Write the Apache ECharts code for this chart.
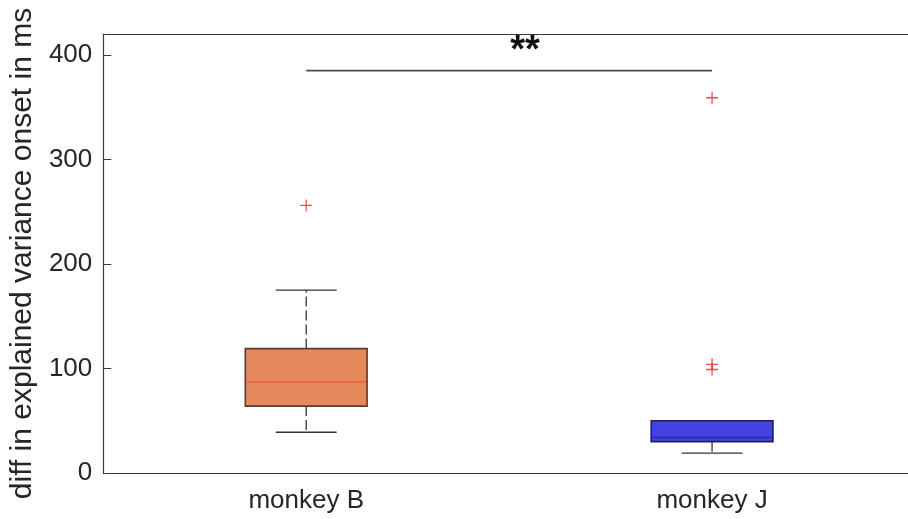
<!DOCTYPE html>
<html>
<head>
<meta charset="utf-8">
<script src="https://cdn.jsdelivr.net/npm/echarts@6/dist/echarts.min.js"></script>
<style>
  html, body { margin: 0; padding: 0; background: #ffffff; overflow: hidden; }
  #chart { width: 920px; height: 519px; }
</style>
</head>
<body>
<div id="chart"></div>
<script>
// Groups on the x axis
const categories = ['monkey B', 'monkey J'];

// Box statistics per group: [lower whisker, Q1, median, Q3, upper whisker]
const boxStats = [
  [39, 64, 87, 119, 175],
  [19, 30, 34, 50, 50]
];

// Outliers: [group, value]
const outliers = [
  ['monkey B', 256],
  ['monkey J', 359],
  ['monkey J', 104],
  ['monkey J', 99]
];

// Significance bracket between the two groups
const sigFrom = 'monkey B';
const sigTo = 'monkey J';
const sigValue = 385;
const sigLabel = '**';

// Y axis ticks
const yMin = 0;
const yMax = 420;
const yStep = 100;

const boxFill = ['#e5895d', '#4343e2'];
const boxEdge = ['#5e3a2c', '#1e1e66'];
const medianColor = ['#e4603a', '#2b2ba6'];

const fontFamily = '"Liberation Sans", Arial, Helvetica, sans-serif';
const axisColor = '#3a3a3a';
const textColor = '#262626';

const chart = echarts.init(document.getElementById('chart'), null, { renderer: 'canvas' });

function renderBox(params, api) {
  const idx = api.value(0);
  const lo = api.coord([idx, api.value(1)]);
  const q1 = api.coord([idx, api.value(2)]);
  const med = api.coord([idx, api.value(3)]);
  const q3 = api.coord([idx, api.value(4)]);
  const hi = api.coord([idx, api.value(5)]);
  const band = api.size([1, 0])[0];
  const half = band * 0.15;
  const cap = band * 0.075;
  const x = q1[0];
  const dash = { stroke: '#333333', lineWidth: 1.3, lineDash: [10, 4] };
  const solid = { stroke: '#333333', lineWidth: 1.3 };
  const children = [];
  if (hi[1] < q3[1] - 0.5) {
    children.push({ type: 'line', shape: { x1: x, y1: q3[1], x2: x, y2: hi[1] }, style: dash });
    children.push({ type: 'line', shape: { x1: x - cap, y1: hi[1], x2: x + cap, y2: hi[1] }, style: solid });
  }
  if (lo[1] > q1[1] + 0.5) {
    children.push({ type: 'line', shape: { x1: x, y1: q1[1], x2: x, y2: lo[1] }, style: dash });
    children.push({ type: 'line', shape: { x1: x - cap, y1: lo[1], x2: x + cap, y2: lo[1] }, style: solid });
  }
  children.push({
    type: 'rect',
    shape: { x: x - half, y: q3[1], width: half * 2, height: q1[1] - q3[1] },
    style: { fill: boxFill[idx], stroke: boxEdge[idx], lineWidth: 1.6 }
  });
  children.push({
    type: 'line',
    shape: { x1: x - half + 1, y1: med[1], x2: x + half - 1, y2: med[1] },
    style: { stroke: medianColor[idx], lineWidth: 1.6 }
  });
  return { type: 'group', children: children };
}

function renderSig(params, api) {
  const a = api.coord([api.value(0), api.value(2)]);
  const b = api.coord([api.value(1), api.value(2)]);
  const midX = (a[0] + b[0]) / 2;
  return {
    type: 'group',
    children: [
      { type: 'line', shape: { x1: a[0], y1: a[1], x2: b[0], y2: b[1] }, style: { stroke: '#4a4a4a', lineWidth: 1.8 } },
      {
        type: 'text',
        style: {
          x: midX + 1, y: a[1] - 19, text: sigLabel,
          fill: '#111111', font: 'bold 38px ' + fontFamily,
          align: 'left', verticalAlign: 'middle'
        }
      }
    ]
  };
}

const boxData = boxStats.map((s, i) => [i].concat(s));
const sigData = [[categories.indexOf(sigFrom), categories.indexOf(sigTo), sigValue]];

chart.setOption({
  animation: false,
  backgroundColor: '#ffffff',
  grid: { left: 103, top: 34, right: 5, height: 439, containLabel: false },
  xAxis: [
    {
      type: 'category',
      data: categories,
      position: 'bottom',
      boundaryGap: true,
      axisLine: { lineStyle: { color: axisColor, width: 1.2 } },
      axisTick: { inside: true, alignWithLabel: true, length: 7, lineStyle: { color: axisColor } },
      axisLabel: { color: textColor, fontSize: 26, fontFamily: fontFamily, margin: 15 },
      splitLine: { show: false }
    },
    {
      type: 'category',
      data: categories,
      position: 'top',
      boundaryGap: true,
      axisLine: { lineStyle: { color: axisColor, width: 1.2 } },
      axisTick: { inside: true, alignWithLabel: true, length: 7, lineStyle: { color: axisColor } },
      axisLabel: { show: false },
      splitLine: { show: false }
    }
  ],
  yAxis: {
    type: 'value',
    min: yMin,
    max: yMax,
    interval: yStep,
    name: 'diff in explained variance onset in ms',
    nameLocation: 'middle',
    nameGap: 62,
    nameTextStyle: { color: textColor, fontSize: 30, fontFamily: fontFamily },
    axisLine: { show: true, lineStyle: { color: axisColor, width: 1.2 } },
    axisTick: { show: true, inside: true, length: 8, lineStyle: { color: axisColor } },
    axisLabel: { color: textColor, fontSize: 26, fontFamily: fontFamily, margin: 11, showMaxLabel: false },
    splitLine: { show: false }
  },
  series: [
    {
      type: 'custom',
      renderItem: renderBox,
      encode: { x: 0, y: [1, 2, 3, 4, 5] },
      data: boxData,
      z: 2
    },
    {
      type: 'scatter',
      data: outliers,
      symbol: 'path://M0,5 L10,5 M5,0 L5,10',
      symbolSize: 12,
      itemStyle: { color: 'none', borderColor: '#d9262b', borderWidth: 1.3 },
      z: 3
    },
    {
      type: 'custom',
      renderItem: renderSig,
      encode: { x: [0, 1], y: 2 },
      data: sigData,
      z: 4
    }
  ]
});
</script>
</body>
</html>
